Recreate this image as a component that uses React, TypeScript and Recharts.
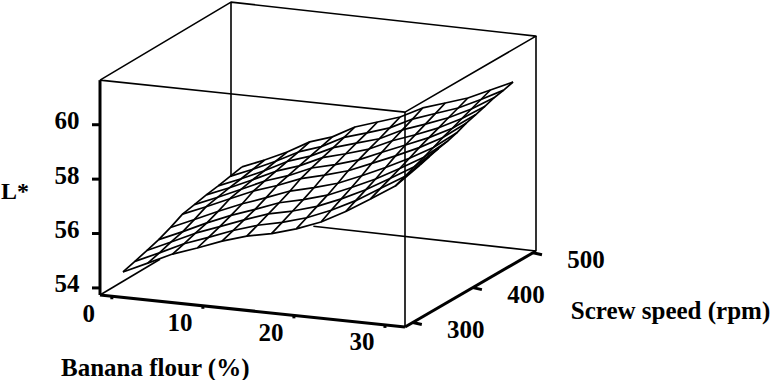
import React from 'react';
import { ComposedChart, XAxis, YAxis, Line, Scatter } from 'recharts';

const W = 773;
const H = 380;

// Surface grid: rows run along banana flour, columns along screw speed
const bananaLevels = [0, 2.5, 5, 7.5, 10, 12.5, 15, 17.5, 20, 22.5, 25, 27.5, 30];
const screwLevels = [300, 320, 340, 360, 380, 400, 420, 440, 460, 480, 500];
const lRow0 = [54.48, 54.6, 54.73, 54.86, 55.04, 55.26, 55.34, 55.43, 55.49, 55.57, 55.65];
const lRow1 = [54.9, 55.01, 55.14, 55.25, 55.43, 55.63, 55.71, 55.79, 55.85, 55.93, 56.0];
const lRow2 = [55.33, 55.44, 55.56, 55.67, 55.83, 56.02, 56.1, 56.18, 56.24, 56.32, 56.39];
const lRow3 = [55.65, 55.77, 55.9, 56.04, 56.2, 56.4, 56.5, 56.59, 56.68, 56.76, 56.86];
const lRow4 = [56.0, 56.12, 56.24, 56.36, 56.52, 56.7, 56.79, 56.88, 56.97, 57.05, 57.14];
const lRow5 = [56.28, 56.41, 56.56, 56.7, 56.86, 57.05, 57.17, 57.28, 57.38, 57.49, 57.6];
const lRow6 = [56.47, 56.61, 56.76, 56.91, 57.08, 57.27, 57.39, 57.52, 57.64, 57.75, 57.88];
const lRow7 = [56.74, 56.88, 57.03, 57.17, 57.34, 57.53, 57.66, 57.79, 57.9, 58.03, 58.16];
const lRow8 = [57.09, 57.25, 57.4, 57.55, 57.71, 57.9, 58.04, 58.19, 58.32, 58.45, 58.59];
const lRow9 = [57.57, 57.7, 57.83, 57.96, 58.11, 58.27, 58.4, 58.51, 58.63, 58.75, 58.87];
const lRow10 = [58.13, 58.24, 58.34, 58.44, 58.55, 58.67, 58.77, 58.86, 58.96, 59.05, 59.15];
const lRow11 = [58.7, 58.78, 58.87, 58.95, 59.04, 59.14, 59.21, 59.3, 59.38, 59.46, 59.54];
const lRow12 = [59.57, 59.61, 59.64, 59.65, 59.69, 59.77, 59.81, 59.85, 59.9, 59.9, 59.93];
const lGrid = [lRow0, lRow1, lRow2, lRow3, lRow4, lRow5, lRow6, lRow7, lRow8, lRow9, lRow10, lRow11, lRow12];

const lTicks = [54, 56, 58, 60];
const bananaTicks = [0, 10, 20, 30];
const screwTicks = [300, 400, 500];

const B_MIN = -1.3, B_MAX = 32.2;
const S_MIN = 287, S_MAX = 505;
const L_MIN = 53.74, L_MAX = 61.64;
const PX_PER_L = 27.2;

// oblique projection of the plot box: floor corners + vertical L scale
const FLOOR = {
  a: [100, 295], b: [405, 327], c: [536, 251], d: [231, 217],
};
const boxAt = (u: number, v: number, l: number) => {
  const bl = (k: 0 | 1) =>
    FLOOR.a[k] * (1 - u) * (1 - v) + FLOOR.b[k] * u * (1 - v) + FLOOR.c[k] * u * v + FLOOR.d[k] * (1 - u) * v;
  return { x: bl(0), y: bl(1) - PX_PER_L * (l - L_MIN) };
};
const uOf = (b: number) => (b - B_MIN) / (B_MAX - B_MIN);
const vOf = (s: number) => (s - S_MIN) / (S_MAX - S_MIN);

// the surface node projection
const surfaceAt = (b: number, s: number, l: number) => ({
  x: 123 + (9.9 - 0.00433 * (s - 300)) * b + 0.595 * (s - 300),
  y: 285 + 1.05 * b - 0.366 * (s - 300) - PX_PER_L * (l - 54),
});

const bananaLines = screwLevels.map((s, j) => bananaLevels.map((b, i) => surfaceAt(b, s, lGrid[i][j])));
const screwLines = bananaLevels.map((b, i) => screwLevels.map((s, j) => surfaceAt(b, s, lGrid[i][j])));

const seg = (...pts: { x: number; y: number }[]) => pts;

const thinBack = [
  seg(boxAt(0, 1, 55.21), boxAt(0, 1, L_MAX)), // back vertical, down to where the surface hides it
  seg(boxAt(0, 0, L_MIN), boxAt(0, 0.458, L_MIN)), // floor left edge, up to the surface
  seg(boxAt(0.27, 1, L_MIN), boxAt(1, 1, L_MIN)), // floor back edge, out from behind the surface
  seg(boxAt(0, 0, L_MAX), boxAt(1, 0, L_MAX), boxAt(1, 1, L_MAX), boxAt(0, 1, L_MAX), boxAt(0, 0, L_MAX)),
  seg(boxAt(1, 1, L_MIN), boxAt(1, 1, L_MAX)),
];
const thinFront = [seg(boxAt(1, 0, L_MIN), boxAt(1, 0, L_MAX))];
const thick = [
  seg(boxAt(0, 0, L_MIN), boxAt(0, 0, L_MAX)),
  seg(boxAt(0, 0, L_MIN), boxAt(1, 0, L_MIN)),
  seg(boxAt(1, 0, L_MIN), boxAt(1, 1, L_MIN)),
];
const tickOff = (p: { x: number; y: number }, dx: number, dy: number) => seg(p, { x: p.x + dx, y: p.y + dy });
const tickLines = [
  ...lTicks.map((l) => tickOff(boxAt(0, 0, l), -8, 0)),
  ...bananaTicks.map((b) => tickOff(boxAt(uOf(b), 0, L_MIN), 0, 3)),
  ...screwTicks.map((s) => tickOff(boxAt(1, vOf(s), L_MIN), 9, 2)),
];

const labels = [
  ...lTicks.map((l) => ({ ...boxAt(0, 0, l), text: String(l), dx: -33, dy: -4, size: 25 })),
  ...bananaTicks.map((b) => ({ ...boxAt(uOf(b), 0, L_MIN), text: String(b), dx: -23, dy: 17, size: 25 })),
  ...screwTicks.map((s) => ({ ...boxAt(1, vOf(s), L_MIN), text: String(s), dx: 53, dy: 7, size: 25 })),
  { ...boxAt(0, 0, 57.75), text: 'L*', dx: -85, dy: 5, size: 24 },
  { ...boxAt(1, 0.5, L_MIN), text: 'Screw speed (rpm)', dx: 200, dy: 21, size: 25 },
  { ...boxAt(0.25, 0, L_MIN), text: 'Banana flour (%)', dx: -21, dy: 64, size: 25 },
];

const TextMark = (props: any) => {
  const { cx, cy, payload } = props;
  return (
    <text
      x={cx + payload.dx}
      y={cy + payload.dy}
      textAnchor="middle"
      dominantBaseline="central"
      fontFamily="'Liberation Serif', serif"
      fontWeight="bold"
      fontSize={payload.size}
      fill="#000"
    >
      {payload.text}
    </text>
  );
};

const stroke = (data: { x: number; y: number }[], key: string, width: number) => (
  <Line
    key={key}
    data={data}
    dataKey="y"
    type="linear"
    stroke="#000"
    strokeWidth={width}
    dot={false}
    activeDot={false}
    legendType="none"
    isAnimationActive={false}
    strokeLinejoin="round"
  />
);

export default function App() {
  return (
    <div style={{ position: 'absolute', left: 0, top: 0, width: W, height: H, background: '#fff' }}>
      <ComposedChart width={W} height={H} margin={{ top: 0, right: 0, bottom: 0, left: 0 }}>
        <XAxis dataKey="x" type="number" domain={[0, W]} hide allowDataOverflow />
        <YAxis dataKey="y" type="number" domain={[0, H]} reversed hide allowDataOverflow />
        {thinBack.map((d, i) => stroke(d, `back${i}`, 1.6))}
        {bananaLines.map((d, i) => stroke(d, `bl${i}`, 1.7))}
        {screwLines.map((d, i) => stroke(d, `sl${i}`, 1.7))}
        {thinFront.map((d, i) => stroke(d, `front${i}`, 1.6))}
        {thick.map((d, i) => stroke(d, `thick${i}`, 3))}
        {tickLines.map((d, i) => stroke(d, `tick${i}`, 3))}
        <Scatter data={labels} shape={TextMark} isAnimationActive={false} legendType="none" />
      </ComposedChart>
    </div>
  );
}
